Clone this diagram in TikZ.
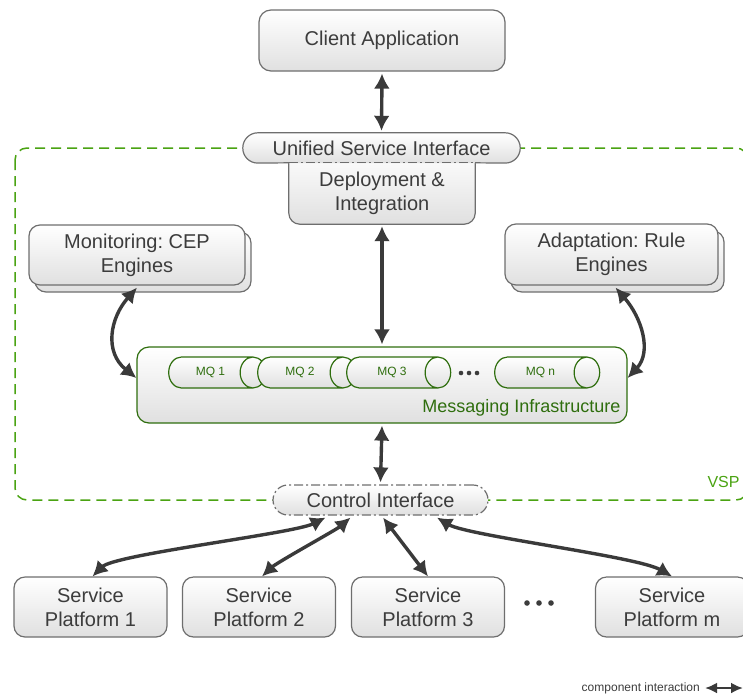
\documentclass[tikz,border=0pt]{standalone}
\usepackage{fontspec}
\setmainfont{Liberation Sans}
\usetikzlibrary{arrows.meta,shapes.geometric,calc}
\definecolor{inktext}{HTML}{3C3C3C}
\definecolor{edgegray}{HTML}{6E6E6E}
\definecolor{shadebot}{HTML}{E0E0E0}
\definecolor{mqgreen}{HTML}{2F6E0E}
\definecolor{vspgreen}{HTML}{4AA312}
\definecolor{linkgray}{HTML}{3A3A3A}
\newcommand{\boxfont}{\fontsize{20}{24}\selectfont}
\newcommand{\tinyfont}{\fontsize{12}{14}\selectfont}
\newcommand{\msgfont}{\fontsize{18}{21}\selectfont}
\frenchspacing
\pgfdeclarelayer{back}
\pgfsetlayers{back,main}
\tikzset{
  softfill/.style={top color=white, bottom color=shadebot},
  box/.style={softfill, draw=edgegray, line width=1.2pt, rounded corners=11pt,
    text=inktext, font=\boxfont, align=center, inner sep=0pt},
  shadowbox/.style={softfill, draw=edgegray, line width=1.2pt, rounded corners=11pt, inner sep=0pt},
  pill/.style={softfill, rounded corners=15pt, minimum height=30pt,
    text=inktext, font=\boxfont, inner sep=0pt},
  mq/.style={cylinder, softfill, draw=mqgreen, line width=1.2pt, aspect=2.4,
    minimum width=31pt, inner sep=0pt, text=mqgreen, font=\tinyfont},
  dashdot/.style={dash pattern=on 9pt off 3pt on 2pt off 3pt},
  link/.style={draw=linkgray, line width=3.4pt,
    arrows={Latex[length=15pt,width=16pt]-Latex[length=15pt,width=16pt]}},
  smalllink/.style={draw=linkgray, line width=2.6pt,
    arrows={Latex[length=12pt,width=11pt]-Latex[length=12pt,width=11pt]}},
}
\begin{document}
\begin{tikzpicture}[x=1pt,y=-1pt]
\useasboundingbox (0,0) rectangle (743,699);

% top: client and the unified interface with its deployment part
\node[box, minimum width=246pt, minimum height=61pt, rounded corners=12pt] (client) at (382,40.5) {Client Application};
\node[pill, minimum width=277pt] (usi) at (381.5,148) {Unified Service Interface};
\node[text=inktext, font=\boxfont, align=center, minimum width=186pt, minimum height=61pt, inner sep=0pt] (dep) at (382,193.5) {Deployment \&\\Integration};

\begin{pgfonlayer}{back}
  \begin{scope}
    \clip (0,0) rectangle (743,699);
    \draw[vspgreen, line width=1.5pt, dash pattern=on 10pt off 6pt, rounded corners=12pt] (15,148) rectangle (748,500);
  \end{scope}
  \draw[softfill, draw=edgegray, line width=1.2pt, rounded corners=11pt] ([yshift=14pt]dep.north west) rectangle (dep.south east);
\end{pgfonlayer}
\draw[edgegray, line width=1.2pt, rounded corners=15pt] (dep.north west) -- (usi.south west) -- (usi.north west) -- (usi.north east) -- (usi.south east) -- (dep.north east);
\draw[edgegray, line width=1.2pt, dashdot] (dep.north west) -- (dep.north east);

% monitoring and adaptation
\node[shadowbox, minimum width=216pt, minimum height=60pt] (monsh) at (143,262) {};
\node[box, minimum width=216pt, minimum height=60pt] (mon) at (137,255) {Monitoring: CEP\\Engines};
\node[shadowbox, minimum width=213pt, minimum height=61pt] (adash) at (617.5,261.5) {};
\node[box, minimum width=213pt, minimum height=61pt] (ada) at (611.5,254.5) {Adaptation: Rule\\Engines};

% messaging infrastructure with its queues
\node[softfill, draw=mqgreen, line width=1.2pt, rounded corners=12pt, minimum width=490pt, minimum height=76pt, inner sep=0pt] (msg) at (382,385) {};
\node[anchor=east, text=mqgreen, font=\msgfont, inner sep=0pt] (msglbl) at ([xshift=-7pt,yshift=-23pt]msg.east) {Messaging Infrastructure};
\node[mq, minimum height=97pt] (mq1) at (210.5,372.5) {MQ 1};
\node[mq, minimum height=98pt] (mq2) at (300,372.5) {MQ 2};
\node[mq, minimum height=104pt] (mq3) at (392,372.5) {MQ 3};
\node[mq, minimum height=105pt] (mqn) at (540.5,372.5) {MQ n};
\foreach \x in {461,469,477} \fill[inktext] (\x,373) circle (2.3pt);

% control interface
\node[pill, draw=edgegray, line width=1.2pt, dashdot, minimum width=215pt] (ci) at (380.5,500) {Control Interface};
\node[text=vspgreen, font=\fontsize{16}{18}\selectfont, inner sep=0pt] (vsp) at (723.5,482) {VSP};

% service platforms
\node[box, minimum width=153pt, minimum height=60pt] (sp1) at (90.5,607) {Service\\Platform 1};
\node[box, minimum width=153pt, minimum height=60pt] (sp2) at (259,607) {Service\\Platform 2};
\node[box, minimum width=153pt, minimum height=60pt] (sp3) at (428,607) {Service\\Platform 3};
\node[box, minimum width=153pt, minimum height=60pt] (spm) at (672,607) {Service\\Platform m};
\foreach \x in {527,539,551} \fill[inktext] (\x,603) circle (2.8pt);

% interactions
\draw[link] ([yshift=-2pt]client.south) -- ([yshift=2pt]usi.north);
\draw[link] ([yshift=-2pt]dep.south) -- ([yshift=2pt]msg.north);
\draw[link] ([yshift=-2pt]msg.south) -- ([yshift=2pt]ci.north);
\draw[link] ([yshift=-2pt]mon.south) .. controls (110,318) and (104,352) .. ([yshift=7pt]msg.west);
\draw[link] ([xshift=4pt,yshift=-2pt]ada.south) .. controls (642,318) and (652,352) .. ([yshift=7pt]msg.east);
\draw[link] ([xshift=2pt]sp1.north) .. controls +(22,-22) and +(-32,16) .. ([xshift=-55pt,yshift=-2pt]ci.south);
\draw[link] ([xshift=3pt]sp2.north) .. controls +(15,-14) and +(-14,12) .. ([xshift=-30pt,yshift=-2pt]ci.south);
\draw[link] ([xshift=2.5pt,yshift=-2pt]ci.south) -- (sp3.north);
\draw[link] ([xshift=56.5pt,yshift=-2pt]ci.south) .. controls +(30,18) and +(-35,-20) .. (spm.north);

% legend
\node[anchor=east, text=inktext, font=\tinyfont, inner sep=0pt] (legend) at (700,688) {component interaction};
\coordinate (legA) at (705,688);
\coordinate (legB) at (743,688);
\draw[smalllink] (legA) -- (legB);
\end{tikzpicture}
\end{document}
